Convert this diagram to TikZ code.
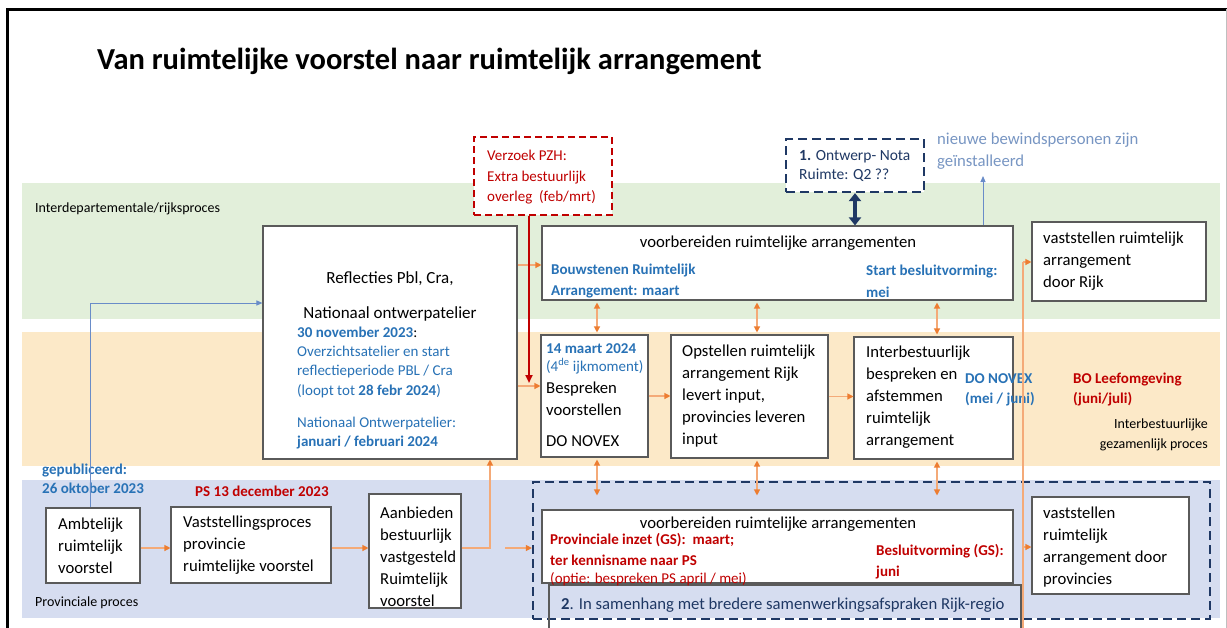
\documentclass[tikz,border=0pt]{standalone}
\usepackage{fontspec}
\setmainfont{Carlito}
\usetikzlibrary{arrows.meta,fit,calc}
\definecolor{bandgreen}{RGB}{226,239,218}
\definecolor{bandorange}{RGB}{252,233,200}
\definecolor{bandblue}{RGB}{214,221,240}
\definecolor{tblue}{RGB}{40,114,182}
\definecolor{tred}{RGB}{192,0,0}
\definecolor{navy}{RGB}{31,56,100}
\definecolor{lbluetxt}{RGB}{120,150,195}
\definecolor{larrow}{RGB}{105,140,200}
\definecolor{oline}{RGB}{244,170,120}
\definecolor{ohead}{RGB}{237,125,49}
\definecolor{bgray}{RGB}{90,90,90}
\newcommand\fbody{\fontsize{16.7}{22}\selectfont}
\newcommand\fsm{\fontsize{15}{19.5}\selectfont}
\newcommand\flab{\fontsize{14}{20}\selectfont}
\begin{document}
\begin{tikzpicture}[x=1pt,y=-1pt,
  box/.style={draw=bgray,line width=1.1pt,fill=white,inner sep=0pt},
  openbox/.style={draw=bgray,line width=1.1pt,inner sep=0pt},
  dredbox/.style={draw=tred,line width=1.8pt,dash pattern=on 7pt off 4pt,inner sep=0pt},
  dnavybox/.style={draw=navy,line width=2.2pt,dash pattern=on 9pt off 5pt,inner sep=0pt},
  tx/.style={inner sep=0pt,anchor=base west,font=\fbody},
  blk/.style={inner sep=0pt,anchor=west,align=left,font=\fbody},
  oarr/.style={draw=oline,line width=1.2pt,-{Triangle[length=6pt,width=6pt,color=ohead]}},
  odbl/.style={draw=oline,line width=1.2pt,{Triangle[length=6pt,width=6pt,color=ohead]}-{Triangle[length=6pt,width=6pt,color=ohead]},shorten <=2pt,shorten >=2pt},
  oplain/.style={draw=oline,line width=1.2pt},
  barr/.style={draw=larrow,line width=1pt,-{Triangle[length=6pt,width=5pt]}},
  rarr/.style={draw=tred,line width=2.4pt,-{Triangle[length=8pt,width=7pt]}},
  narr/.style={draw=navy,line width=4pt,{Triangle[length=8pt,width=12pt]}-{Triangle[length=8pt,width=12pt]}}
]
\useasboundingbox (0,0) rectangle (1227,627);
\clip (0,0) rectangle (1227,627);
\fill[white] (0,0) rectangle (1227,627);
% bands
\fill[bandgreen] (22,183) rectangle (1220,319);
\fill[bandorange] (22,332) rectangle (1220,466);
\fill[bandblue] (22,480) rectangle (1220,618);
% frame
\draw[line width=3pt] (7,660) -- (7,9) -- (1240,9);
\draw[line width=0.6pt,black!25] (1226,9) -- (1226,660);
% title
\node[tx,font=\fontsize{30.5}{34}\selectfont\bfseries] (ttl) at (97,69) {Van ruimtelijke voorstel naar ruimtelijk arrangement};
% band labels
\node[tx,font=\flab] (lg) at (35,212) {Interdepartementale/rijksproces};
\node[tx,font=\flab] (lb) at (35,606) {Provinciale proces};
\node[inner sep=0pt,anchor=base east,font=\flab] (lo1) at (1208,428) {Interbestuurlijke};
\node[inner sep=0pt,anchor=base east,font=\flab] (lo2) at (1208,448) {gezamenlijk proces};
% big dashed box (provincial)
\node[dnavybox,fit={(533,482) (1210,619)}] (dash) {};
% boxes
\node[box,fit={(263,226) (517,459)}] (refl) {};
\node[box,fit={(542,226) (1013,300)}] (vbtop) {};
\node[box,fit={(1032,222) (1206,301)}] (vrijk) {};
\node[box,fit={(541,335) (648,457)}] (besp) {};
\node[box,fit={(671,335) (828,458)}] (opst) {};
\node[box,fit={(854,337) (1013,459)}] (inter) {};
\node[box,fit={(46,508) (140,583)}] (ambt) {};
\node[box,fit={(171,507) (331,583)}] (vastp) {};
\node[box,fit={(369,494) (461,608)}] (aanb) {};
\node[box,fit={(542,510) (1013,583)}] (vbbot) {};
\node[box,fit={(1032,497) (1189,594)}] (vprov) {};
\node[openbox,fit={(549,585) (1021,650)}] (samen) {};
\node[dredbox,fill=white,fit={(474,137) (612,215)}] (verz) {};
\node[dnavybox,fill=white,fit={(786,139) (924,192)}] (nota) {};
% texts: verzoek
\node[inner sep=0pt,anchor=north west,align=left,font=\fontsize{15}{20.5}\selectfont,text=tred] (verzt) at (487,150) {Verzoek PZH:\\Extra bestuurlijk\\overleg~ (feb/mrt)};
% nota
\node[inner sep=0pt,anchor=north west,align=left,font=\fontsize{15.5}{19}\selectfont,text=navy] (notat) at (799,150) {\textbf{1.} Ontwerp- Nota\\Ruimte: Q2 ??};
% nieuwe bewindspersonen
\node[inner sep=0pt,anchor=north west,align=left,font=\fontsize{16.7}{22}\selectfont,text=lbluetxt] (nieuw) at (937,133) {nieuwe bewindspersonen zijn\\geïnstalleerd};
% reflecties
\node[inner sep=0pt,anchor=base,font=\fontsize{17}{22}\selectfont] (r1) at (390,283.5) {Reflecties Pbl, Cra,};
\node[inner sep=0pt,anchor=base,font=\fontsize{17}{22}\selectfont] (r2) at (390,318.5) {Nationaal ontwerpatelier};
\node[tx,font=\fsm,text=tblue] (r3) at (297,337.5) {\textbf{30 november 2023}\textcolor{black}{:}};
\node[tx,font=\fsm,text=tblue] (r4) at (297,356.5) {Overzichtsatelier en start};
\node[tx,font=\fsm,text=tblue] (r5) at (297,375.5) {reflectieperiode PBL / Cra};
\node[tx,font=\fsm,text=tblue] (r6) at (297,395.5) {(loopt tot \textbf{28 febr 2024})};
\node[tx,font=\fsm,text=tblue] (r7) at (297,427.5) {Nationaal Ontwerpatelier:};
\node[tx,font=\fsm\bfseries,text=tblue] (r8) at (297,446.5) {januari / februari 2024};
% voorbereiden top
\node[inner sep=0pt,anchor=base,font=\fbody] (vt1) at (778,247.5) {voorbereiden ruimtelijke arrangementen};
\node[tx,font=\fsm\bfseries,text=tblue] (vt2) at (551,274.5) {Bouwstenen Ruimtelijk};
\node[tx,font=\fsm\bfseries,text=tblue] (vt3) at (551,295.5) {Arrangement: maart};
\node[tx,font=\fsm\bfseries,text=tblue] (vt4) at (866,275.5) {Start besluitvorming:};
\node[tx,font=\fsm\bfseries,text=tblue] (vt5) at (866,297) {mei};
% vaststellen rijk
\node[blk] (vrt) at (1043,261) {vaststellen ruimtelijk\\arrangement\\door Rijk};
% bespreken
\node[tx,font=\fsm\bfseries,text=tblue] (b1) at (546,353) {14 maart 2024};
\node[tx,font=\fsm,text=tblue] (b2) at (546,371) {(4\textsuperscript{de} ijkmoment)};
\node[tx] (b3) at (546,393) {Bespreken};
\node[tx] (b4) at (546,415) {voorstellen};
\node[tx] (b5) at (546,446) {DO NOVEX};
% opstellen
\node[blk] (opt) at (682,396.5) {Opstellen ruimtelijk\\arrangement Rijk\\levert input,\\provincies leveren\\input};
% interbestuurlijk
\node[blk] (intt) at (866,397) {Interbestuurlijk\\bespreken en\\afstemmen\\ruimtelijk\\arrangement};
\node[tx,font=\fsm\bfseries,text=tblue] (dn1) at (965,383) {DO NOVEX};
\node[tx,font=\fsm\bfseries,text=tblue] (dn2) at (965,403) {(mei / juni)};
\node[tx,font=\fsm\bfseries,text=tred] (bo1) at (1073,383) {BO Leefomgeving};
\node[tx,font=\fsm\bfseries,text=tred] (bo2) at (1073,403) {(juni/juli)};
% provincial row
\node[tx,font=\fsm\bfseries,text=tblue] (gp1) at (42,474) {gepubliceerd:};
\node[tx,font=\fsm\bfseries,text=tblue] (gp2) at (42,493) {26 oktober 2023};
\node[tx,font=\fsm\bfseries,text=tred] (ps) at (195,496) {PS 13 december 2023};
\node[blk] (ambtt) at (58,545.5) {Ambtelijk\\ruimtelijk\\voorstel};
\node[blk] (vastt) at (183,545.5) {Vaststellingsproces\\provincie\\ruimtelijke voorstel};
\node[blk] (aanbt) at (380,557) {Aanbieden\\bestuurlijk\\vastgesteld\\Ruimtelijk\\voorstel};
\node[blk] (vprt) at (1043,547) {vaststellen\\ruimtelijk\\arrangement door\\provincies};
% voorbereiden bottom
\node[inner sep=0pt,anchor=base,font=\fbody] (vb1) at (778,528) {voorbereiden ruimtelijke arrangementen};
\node[tx,font=\fsm\bfseries,text=tred] (vb2) at (550,544.5) {Provinciale inzet (GS):~ maart;};
\node[tx,font=\fsm\bfseries,text=tred] (vb3) at (550,565) {ter kennisname naar PS};
\node[tx,font=\fsm,text=tred] (vb4) at (550,583.5) {(optie: bespreken PS april / mei)};
\node[tx,font=\fsm\bfseries,text=tred] (vb5) at (876,555) {Besluitvorming (GS):};
\node[tx,font=\fsm\bfseries,text=tred] (vb6) at (876,576) {juni};
\node[tx,text=navy] (samt) at (561,609) {\textbf{2}. In samenhang met bredere samenwerkingsafspraken Rijk-regio};
% helper coordinates
\coordinate (yA) at (0,265);
\coordinate (yB) at (0,386);
\coordinate (yC) at (0,548);
\coordinate (xJ) at (490,0);
\coordinate (pD) at (505,548);
\coordinate (xE) at (597,0);
\coordinate (xF) at (757,0);
\coordinate (xG) at (937,0);
\coordinate (redend) at (529,383);
\coordinate (bup) at (983,176);
\coordinate (xH) at (90,303);
\coordinate (vtop) at (1023,262);
\coordinate (vmid) at (1023,547);
\coordinate (vbot) at (1023,660);
% connectors
\draw[oarr] (refl.east |- yA) -- (vbtop.west |- yA);
\draw[oarr] (refl.east |- yB) -- (besp.west |- yB);
\draw[oarr] (besp.east) -- (opst.west |- besp.east);
\draw[oarr] (opst.east) -- (inter.west |- opst.east);
\draw[oarr] (ambt.east |- yC) -- (vastp.west |- yC);
\draw[oarr] (vastp.east |- yC) -- (aanb.west |- yC);
\draw[oarr] (aanb.east |- yC) -| (refl.south -| xJ);
\draw[oarr] (pD) -- (dash.west |- pD);
\draw[odbl] (vbtop.south -| xE) -- (besp.north -| xE);
\draw[odbl] (vbtop.south -| xF) -- (opst.north -| xF);
\draw[odbl] (vbtop.south -| xG) -- (inter.north -| xG);
\draw[odbl,shorten >=14pt] (besp.south -| xE) -- (vbbot.north -| xE);
\draw[odbl,shorten >=14pt] (opst.south -| xF) -- (vbbot.north -| xF);
\draw[odbl,shorten >=14pt] (inter.south -| xG) -- (vbbot.north -| xG);
\draw[oplain] (vbot) -- (vtop);
\draw[oarr] (vtop) -- (vrijk.west |- vtop);
\draw[oarr] (vmid) -- (vprov.west |- vmid);
\draw[rarr] (verz.south -| redend) -- (redend);
\draw[narr] (nota.south) -- (vbtop.north -| nota.south);
\draw[barr] (vbtop.north -| bup) -- (bup);
\draw[barr] (ambt.north -| xH) |- (refl.west |- xH);
\end{tikzpicture}
\end{document}
